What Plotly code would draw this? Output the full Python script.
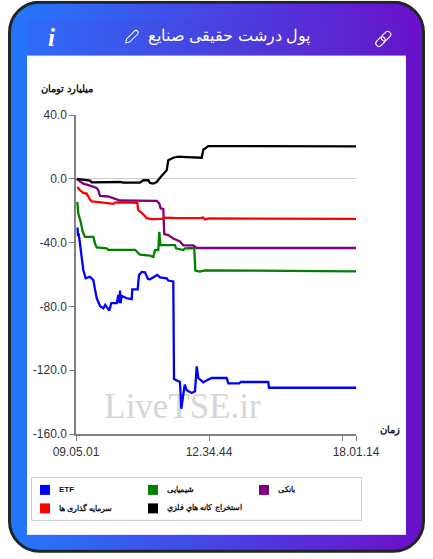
import base64

import plotly.graph_objects as go

# x is the position along the category axis (0 = 09.05.01, 280 = end of the session)
etf_x = [1.5, 2, 2.7, 4, 5.7, 7.3, 9.7, 14, 17.3, 20.7, 24, 27.3, 29.3, 31.3, 33.3, 35.3, 40.7, 42.3, 43.5, 44, 44.5, 45.7, 50.7, 55.7, 56.3, 61.7, 63, 65.7, 69, 72, 74, 81.3, 84, 90.7, 92.3, 97.3, 98, 104, 105.3, 107.3, 108.7, 110.7, 115.7, 119, 120.7, 122.3, 127.3, 132.3, 135.7, 150.7, 152.3, 163.3, 164.7, 192.3, 193, 280]
etf_y = [-30.5, -36, -34.3, -40.5, -49.9, -57.2, -62.4, -61.4, -63.5, -74.9, -79.7, -81.2, -79, -81.2, -82.6, -78, -78, -72.8, -78, -70.1, -78, -73.4, -74.9, -75.5, -69.3, -69.3, -60.3, -58.4, -58.6, -62.8, -63, -60.3, -61.8, -62.4, -63.8, -64.3, -125.5, -127.4, -144.2, -135.3, -129, -132.6, -134.3, -133.2, -117.6, -124.9, -127.6, -125.9, -124.9, -124.9, -128.2, -128.2, -127.4, -127.4, -131, -131]

chem_x = [1.3, 2.3, 4.7, 6.7, 9, 17.3, 19, 20.7, 30.7, 32.3, 59, 64, 74, 77.3, 79, 82.3, 83.3, 84.3, 99, 100, 107.3, 109, 118.3, 119.3, 124, 126.3, 129, 280]
chem_y = [-14.5, -21.8, -27, -33.2, -36.4, -36.4, -40.5, -43, -43.6, -44.5, -44.5, -47.6, -48.2, -49, -44.7, -44.7, -33.2, -41.4, -41.6, -43.6, -44.7, -43.6, -43.4, -57.6, -58.2, -57.6, -57.4, -58]

bank_x = [0.7, 5.7, 7.3, 14, 20.7, 22.3, 24, 32.3, 39, 44, 80.7, 83.3, 84.7, 87.3, 88.3, 92.3, 97.3, 104, 107.3, 117.3, 120.7, 280]
bank_y = [-0.1, -2, -3, -4.3, -5.7, -7.2, -10.7, -11.1, -12.4, -13.6, -13.9, -15.5, -18.6, -18.9, -34.7, -35.3, -37.4, -39.3, -41.8, -41.8, -43.4, -43.4]

invest_x = [1.3, 4, 7.3, 10.7, 14, 15.7, 27.3, 37.3, 39, 45.7, 61.3, 62.3, 67.3, 70.7, 75.7, 85.7, 89, 102.3, 124, 127.3, 129, 132.3, 280]
invest_y = [-5.1, -7.2, -8.9, -9.3, -13, -14.1, -14.9, -15.7, -14.9, -14.7, -15.1, -19.7, -22.2, -24.7, -25.3, -25.1, -24.3, -24.7, -24.7, -24.3, -25.5, -24.9, -25.1]

mining_x = [0.7, 7.3, 14, 15.7, 34, 39, 44, 47.3, 64, 67.3, 72.3, 74, 77.3, 80.7, 84, 90.7, 92.3, 97.3, 102.3, 110.7, 119, 125.7, 127.3, 132.3, 280]
mining_y = [-0.1, -0.5, -1.1, -2.2, -2.2, -1.8, -2, -2.4, -2.4, -0.9, -0.9, -2.6, -3, -2, 0.7, 5.3, 11.6, 13.2, 13.9, 13.6, 13.2, 13.2, 18.2, 20.5, 20.3]

series_names = ["ETF", "شیمیایی", "بانکی", "سرمایه گذاری ها", "استخراج کانه هاي فلزي"]
series_colors = ["#0000ff", "#008000", "#800080", "#ff0000", "#000000"]
series_x = [etf_x, chem_x, bank_x, invest_x, mining_x]
series_y = [etf_y, chem_y, bank_y, invest_y, mining_y]

y_ticks = [40, 0, -40, -80, -120, -160]
y_labels = ["40.0", "0.0", "-40.0", "-80.0", "-120.0", "-160.0"]
x_ticks = [0, 133, 266, 280]
x_labels = ["09.05.01", "12.34.44", "", "18.01.14"]

W, H = 433, 559
LEFT, RIGHT, TOP, BOTTOM = 76, 356, 114.5, 434


def px(x):
    return (x - LEFT) / (RIGHT - LEFT)


def py(y):
    return (BOTTOM - y) / (BOTTOM - TOP)


# card background: plotly has no gradient for paper, so it goes in as an svg image
card_svg = f"""<svg xmlns="http://www.w3.org/2000/svg" width="{W}" height="{H}" viewBox="0 0 {W} {H}">
<defs>
<linearGradient id="g" x1="0" x2="1" y1="0" y2="0"><stop offset="0.03" stop-color="#2575fc"/><stop offset="0.97" stop-color="#6a11cb"/></linearGradient>
<linearGradient id="h" x1="0" x2="1" y1="0" y2="0"><stop offset="0" stop-color="#2d6cf6"/><stop offset="1" stop-color="#6417c8"/></linearGradient>
</defs>
<rect width="{W}" height="{H}" fill="#ffffff"/>
<rect x="9.5" y="1.5" width="414" height="550" rx="30" ry="30" fill="url(#g)" stroke="#212529" stroke-width="3"/>
<rect x="27" y="19" width="379" height="36" fill="url(#h)"/>
<rect x="27" y="55" width="379" height="480" fill="#ffffff"/>
<g transform="rotate(45 131 37)" fill="none" stroke="#ffffff" stroke-width="1">
<path d="M128.8 30 a2.2 2.2 0 0 1 4.4 0 V41 L131 44.5 L128.8 41 Z"/>
</g>
<g transform="rotate(-45 383.3 38.3)" fill="none" stroke="#ffffff" stroke-width="1.1">
<rect x="374" y="35.2" width="10.8" height="6.2" rx="3.1"/>
<rect x="381.8" y="35.2" width="10.8" height="6.2" rx="3.1"/>
</g>
</svg>"""
card_uri = "data:image/svg+xml;base64," + base64.b64encode(card_svg.encode()).decode()

fig = go.Figure()

# watermark sits under the lines
fig.add_trace(go.Scatter(
    x=[106.5], y=[-144.5], mode="text", text=["LiveTSE.ir"],
    textfont=dict(family="Liberation Serif", size=35, color="#d6d6d6"),
    hoverinfo="skip", showlegend=False,
))

for name, color, xs, ys in zip(series_names, series_colors, series_x, series_y):
    fig.add_trace(go.Scatter(
        x=xs, y=ys, mode="lines", name=name,
        line=dict(color=color, width=2.3, shape="linear"),
        showlegend=False,
    ))

shapes = [dict(type="rect", xref="paper", yref="paper",
               x0=px(31.5), x1=px(361.5), y0=py(477.5), y1=py(520.5),
               line=dict(color="#cccccc", width=1), fillcolor="#ffffff", layer="below")]

annotations = [
    dict(text="پول درشت حقیقی صنایع", x=px(229), y=py(35), font=dict(family="Liberation Sans", size=16, color="#ffffff")),
    dict(text="<b><i>i</i></b>", x=px(51), y=py(37), font=dict(family="Liberation Serif", size=25, color="#ffffff")),
    dict(text="<b>میلیارد تومان</b>", x=px(66.5), y=py(88), font=dict(family="Liberation Sans", size=10, color="#111111")),
    dict(text="<b>زمان</b>", x=px(389.5), y=py(430), font=dict(family="Liberation Sans", size=10, color="#111111")),
]

# legend is a 3 column grid, drawn by hand
legend_cols = [(40, 57), (148, 165), (259, 276), (40, 57), (148, 165)]
legend_rows = [490, 490, 490, 508.5, 508.5]
for name, color, (sx, tx), ly in zip(series_names, series_colors, legend_cols, legend_rows):
    shapes.append(dict(type="rect", xref="paper", yref="paper",
                       x0=px(sx), x1=px(sx + 10), y0=py(ly - 5), y1=py(ly + 5),
                       line=dict(width=0), fillcolor=color))
    annotations.append(dict(text=f"<b>{name}</b>", x=px(tx), y=py(ly), xanchor="left",
                            font=dict(family="Liberation Sans", size=8, color="#111111")))

for a in annotations:
    a.update(xref="paper", yref="paper", showarrow=False)
    a.setdefault("xanchor", "center")
    a.setdefault("yanchor", "middle")

fig.update_layout(
    width=W, height=H,
    margin=dict(l=LEFT, r=W - RIGHT, t=TOP, b=H - BOTTOM, pad=0),
    paper_bgcolor="#ffffff",
    plot_bgcolor="rgba(0,0,0,0)",
    font=dict(family="Liberation Sans", size=12, color="#333333"),
    showlegend=False,
    shapes=shapes,
    annotations=annotations,
    images=[dict(source=card_uri, xref="paper", yref="paper", x=px(0), y=py(0),
                 sizex=W / (RIGHT - LEFT), sizey=H / (BOTTOM - TOP),
                 xanchor="left", yanchor="top", sizing="stretch", layer="below")],
)
fig.update_xaxes(
    range=[0, 280], tickmode="array", tickvals=x_ticks, ticktext=x_labels,
    ticks="outside", ticklen=5, tickcolor="#808080", showgrid=False, zeroline=False,
    showline=True, linecolor="#808080", linewidth=1.5, ticklabelstandoff=1,
)
fig.update_yaxes(
    range=[-160, 40], tickmode="array", tickvals=y_ticks, ticktext=y_labels,
    ticks="outside", ticklen=5, tickcolor="#808080", showgrid=False,
    zeroline=True, zerolinecolor="#cccccc", zerolinewidth=1,
    showline=True, linecolor="#808080", linewidth=1.5,
)

fig.write_html("out.html", config={"displayModeBar": False},
               post_script="document.body.style.margin='0';document.body.style.overflow='hidden';")
